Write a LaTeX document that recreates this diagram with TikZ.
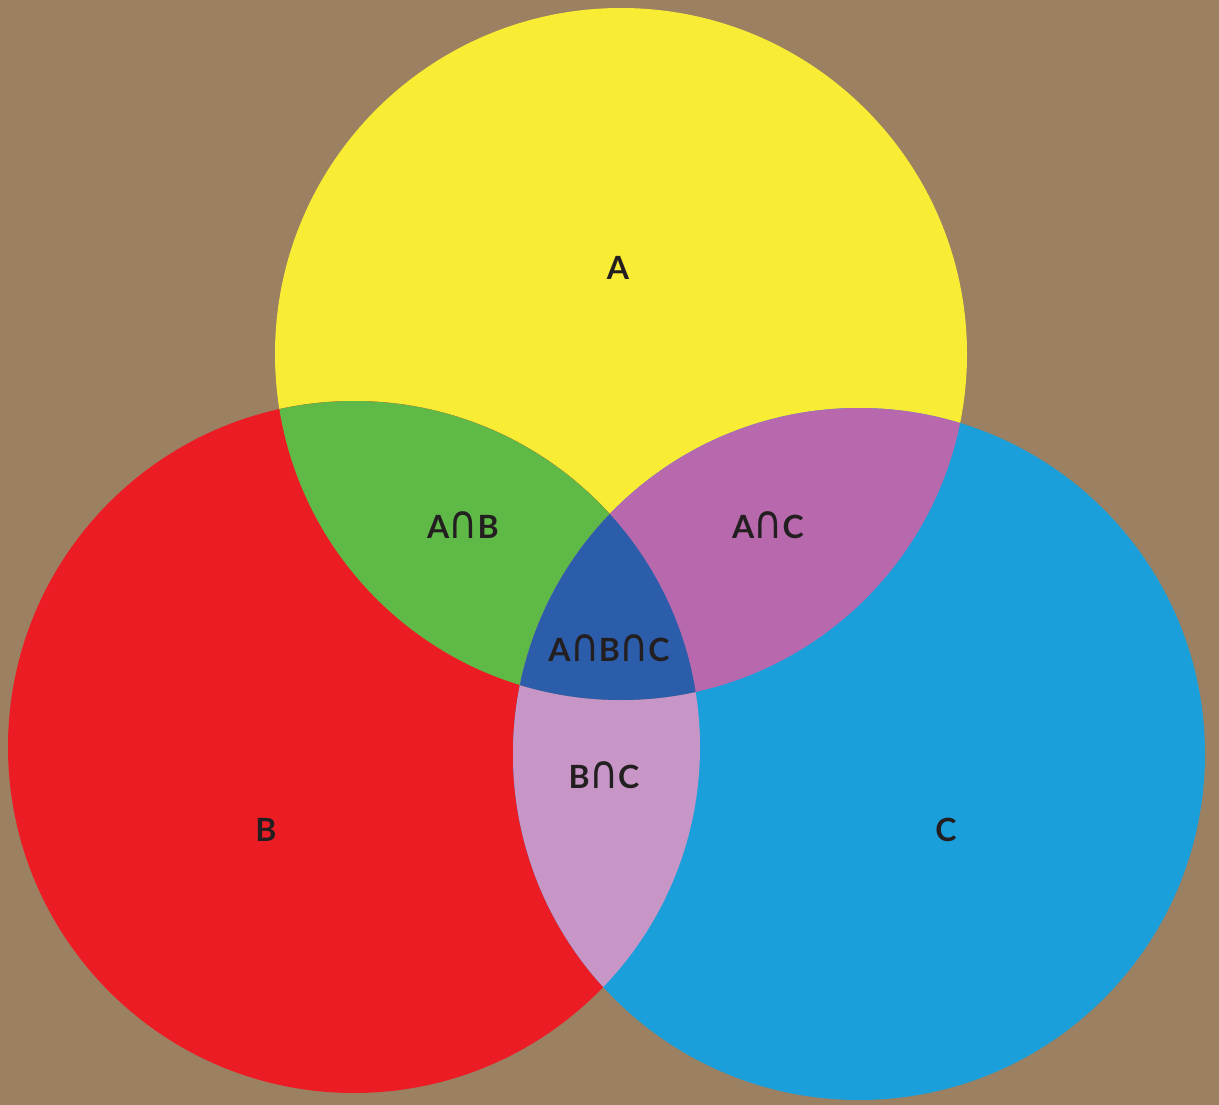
\documentclass[tikz,border=0pt]{standalone}
\usepackage{fontspec}
\usepackage{xcolor}
\usepackage{graphicx}
\usepackage{tikz}
\setmainfont{Lato}
\newfontfamily\capfont{DejaVu Sans}

\definecolor{cardboard}{RGB}{156,128,98}
\definecolor{setA}{RGB}{249,236,52}
\definecolor{setB}{RGB}{236,28,36}
\definecolor{setC}{RGB}{26,159,218}
\definecolor{setAB}{RGB}{94,185,71}
\definecolor{setAC}{RGB}{184,104,172}
\definecolor{setBC}{RGB}{199,150,198}
\definecolor{setABC}{RGB}{44,93,170}
\definecolor{ink}{RGB}{35,31,32}

\newcommand{\cp}{\kern-0.5pt\scalebox{1.25}[1.45]{\capfont\mdseries ∩}\kern-0.5pt}

\begin{document}
\begin{tikzpicture}[x=1pt, y=-1pt,
	lbl/.style={text=ink, font=\fontsize{32}{32}\selectfont\bfseries, inner sep=0pt}]

\fill[cardboard] (0,0) rectangle (1219,1105);

\coordinate (a) at (621,354);
\coordinate (b) at (354,747);
\coordinate (c) at (859,754);

\fill[setA] (a) circle (346pt);
\fill[setB] (b) circle (346pt);
\fill[setC] (c) circle (346pt);

\begin{scope}
	\clip (b) circle (346pt);
	\fill[setBC] (c) circle (346pt);
\end{scope}
\begin{scope}
	\clip (a) circle (346pt);
	\fill[setAB] (b) circle (346pt);
	\fill[setAC] (c) circle (346pt);
	\clip (b) circle (346pt);
	\fill[setABC] (c) circle (346pt);
\end{scope}

\node[lbl] (la) at (618,268) {A};
\node[lbl] (lb) at (266,830) {B};
\node[lbl] (lc) at (946,830) {C};
\node[lbl] (lab) at (463,525) {A\cp B};
\node[lbl] (lac) at (768,525) {A\cp C};
\node[lbl] (lbc) at (604,775) {B\cp C};
\node[lbl] (labc) at (609,648) {A\cp B\cp C};

\end{tikzpicture}
\end{document}
